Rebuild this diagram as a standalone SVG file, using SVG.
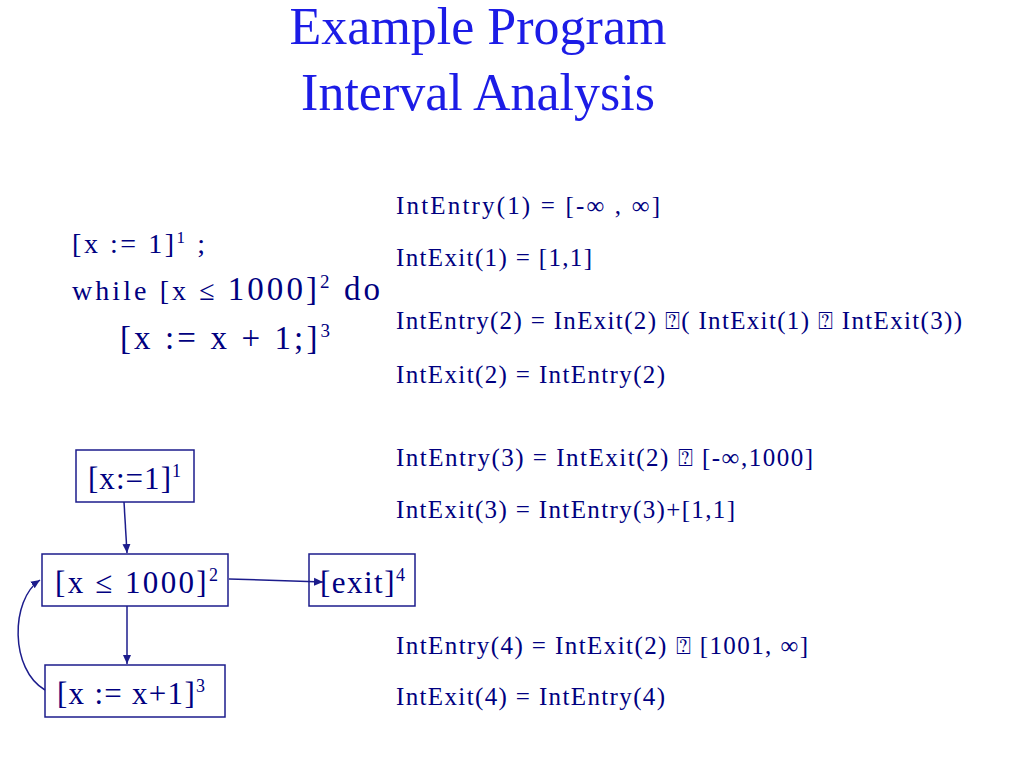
<svg xmlns="http://www.w3.org/2000/svg" width="1024" height="768" viewBox="0 0 1024 768">
<style>
text{font-family:"Liberation Serif","Times New Roman","DejaVu Serif",serif;fill:#000080}
.t{fill:#1c1ce6;font-size:52px}
.e{font-size:25px}
.n{font-size:31px}
.b{fill:#fff;stroke:#1c1c8c;stroke-width:1.5}
.c{stroke:#1c1c8c;stroke-width:1.5;fill:none;marker-end:url(#a)}
</style>
<defs><marker id="a" markerWidth="10" markerHeight="10" refX="9" refY="5" orient="auto" markerUnits="userSpaceOnUse"><path d="M0,1 L9,5 L0,9 Z" fill="#1c1c8c"/></marker></defs>
<rect width="1024" height="768" fill="#fff"/>
<text class="t" x="478" y="44" text-anchor="middle">Example Program</text>
<text class="t" x="478" y="110" text-anchor="middle">Interval Analysis</text>
<g id="program">
<text x="72" y="253" font-size="28" textLength="133">[x := 1]<tspan font-size="17" dy="-10">1</tspan><tspan dy="10"> ;</tspan></text>
<text x="72" y="300" font-size="28" textLength="308">while [x ≤ <tspan font-size="33">1000]</tspan><tspan font-size="19" dy="-12">2</tspan><tspan dy="12" font-size="33"> do</tspan></text>
<text x="120" y="349" font-size="33" textLength="210">[x := x + 1;]<tspan font-size="19" dy="-12">3</tspan></text>
</g>
<g id="equations">
<text class="e" x="396" y="214" textLength="264">IntEntry(1) = [-∞ , ∞]</text>
<text class="e" x="396" y="266" textLength="196">IntExit(1) = [1,1]</text>
<text class="e" x="396" y="329" textLength="566">IntEntry(2) = InExit(2) ⍰( IntExit(1) ⍰ IntExit(3))</text>
<text class="e" x="396" y="383" textLength="269">IntExit(2) = IntEntry(2)</text>
<text class="e" x="396" y="466" textLength="417">IntEntry(3) = IntExit(2) ⍰ [-∞,1000]</text>
<text class="e" x="396" y="518" textLength="339">IntExit(3) = IntEntry(3)+[1,1]</text>
<text class="e" x="396" y="654" textLength="412">IntEntry(4) = IntExit(2) ⍰ [1001, ∞]</text>
<text class="e" x="396" y="705" textLength="269">IntExit(4) = IntEntry(4)</text>
</g>
<g id="n1"><rect class="b" x="76" y="450" width="118" height="52"/><text class="n" x="88" y="489" textLength="93">[x:=1]<tspan font-size="18" dy="-12">1</tspan></text></g>
<g id="n2"><rect class="b" x="42" y="554" width="186" height="52"/><text class="n" x="55" y="593" textLength="163">[x ≤ 1000]<tspan font-size="18" dy="-12">2</tspan></text></g>
<g id="n4"><rect class="b" x="309" y="554" width="106" height="52"/><text class="n" x="320" y="593" textLength="85">[exit]<tspan font-size="18" dy="-12">4</tspan></text></g>
<g id="n3"><rect class="b" x="45" y="665" width="180" height="52"/><text class="n" x="57" y="704" textLength="148">[x := x+1]<tspan font-size="18" dy="-12">3</tspan></text></g>
<g id="connectors">
<path class="c" d="M124,502 L127,553"/>
<path class="c" d="M127,606 L127,664"/>
<path class="c" d="M229,579 L323,582"/>
<path class="c" d="M45,690 C10,670 10,600 40,580"/>
</g>
</svg>
